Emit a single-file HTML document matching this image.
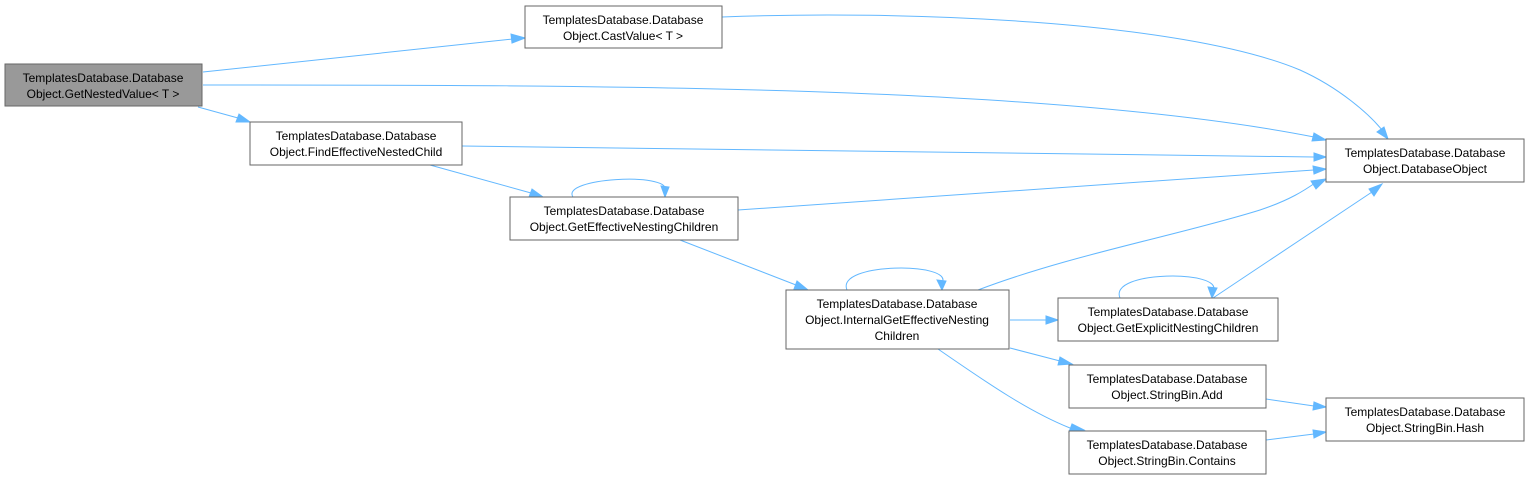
<!DOCTYPE html>
<html><head><meta charset="utf-8"><style>
body{margin:0;background:#fff}
svg text{font-family:"Liberation Sans",Arial,sans-serif;font-size:12px;fill:#000;text-anchor:middle}
.b{fill:#fff;stroke:#666;stroke-width:1}
.e{fill:none;stroke:#63b8ff;stroke-width:1}
.a{fill:#63b8ff;stroke:#63b8ff}
</style></head><body>
<svg width="1529" height="480" viewBox="0 0 1529 480" xmlns="http://www.w3.org/2000/svg">
<!-- edges -->
<path class="e" d="M203,72 L513,39"/><polygon class="a" points="525,38 512,43 511,34"/>
<path class="e" d="M203,85 C600,85 1050,85 1314,137"/><polygon class="a" points="1326,140 1312,141 1314,133"/>
<path class="e" d="M198,107 L238,118"/><polygon class="a" points="250,122 236,122 239,114"/>
<path class="e" d="M722,17 C900,10 1180,20 1300,70 C1340,88 1370,115 1382,130"/><polygon class="a" points="1388,139 1377,132 1384,127"/>
<path class="e" d="M462,146 L1314,157"/><polygon class="a" points="1326,157 1314,161 1314,153"/>
<path class="e" d="M430,165 L531,193"/><polygon class="a" points="543,197 529,197 532,189"/>
<path class="e" d="M573,197 C560,178 670,172 665,190"/><polygon class="a" points="665,197 661,186 669,187"/>
<path class="e" d="M738,210 L1314,170"/><polygon class="a" points="1326,169 1314,174 1313,166"/>
<path class="e" d="M680,240 L796,285"/><polygon class="a" points="808,290 794,289 797,281"/>
<path class="e" d="M847,290 C835,262 955,262 942,283"/><polygon class="a" points="942,290 937,280 946,281"/>
<path class="e" d="M978,290 C1070,255 1180,235 1260,210 C1290,200 1305,190 1315,183"/><polygon class="a" points="1326,179 1316,189 1311,181"/>
<path class="e" d="M1010,320 L1046,320"/><polygon class="a" points="1058,320 1046,324 1046,316"/>
<path class="e" d="M1120,298 C1108,270 1225,270 1213,291"/><polygon class="a" points="1212,298 1208,287 1217,288"/>
<path class="e" d="M1213,298 L1372,192"/><polygon class="a" points="1382,184 1374,196 1369,189"/>
<path class="e" d="M1010,348 L1060,361"/><polygon class="a" points="1072,364 1058,365 1060,357"/>
<path class="e" d="M938,349 C990,385 1030,412 1070,428"/><polygon class="a" points="1084,430 1069,432 1072,424"/>
<path class="e" d="M1266,399 L1314,406"/><polygon class="a" points="1326,407 1313,410 1314,402"/>
<path class="e" d="M1266,440 L1314,434"/><polygon class="a" points="1326,432 1314,438 1313,430"/>
<!-- nodes -->
<rect x="5" y="64" width="197" height="42" fill="#999" stroke="#666"/>
<text x="103" y="82">TemplatesDatabase.Database</text><text x="103" y="98">Object.GetNestedValue&lt; T &gt;</text>
<rect class="b" x="525" y="6" width="197" height="42"/>
<text x="623" y="24">TemplatesDatabase.Database</text><text x="623" y="40">Object.CastValue&lt; T &gt;</text>
<rect class="b" x="250" y="122" width="212" height="43"/>
<text x="356" y="140">TemplatesDatabase.Database</text><text x="356" y="156">Object.FindEffectiveNestedChild</text>
<rect class="b" x="1326" y="139" width="198" height="43"/>
<text x="1425" y="157">TemplatesDatabase.Database</text><text x="1425" y="173">Object.DatabaseObject</text>
<rect class="b" x="510" y="197" width="228" height="43"/>
<text x="624" y="215">TemplatesDatabase.Database</text><text x="624" y="231">Object.GetEffectiveNestingChildren</text>
<rect class="b" x="786" y="290" width="223" height="59"/>
<text x="897" y="308">TemplatesDatabase.Database</text><text x="897" y="324">Object.InternalGetEffectiveNesting</text><text x="897" y="340">Children</text>
<rect class="b" x="1058" y="298" width="220" height="43"/>
<text x="1168" y="316">TemplatesDatabase.Database</text><text x="1168" y="332">Object.GetExplicitNestingChildren</text>
<rect class="b" x="1069" y="365" width="197" height="43"/>
<text x="1167" y="383">TemplatesDatabase.Database</text><text x="1167" y="399">Object.StringBin.Add</text>
<rect class="b" x="1069" y="431" width="197" height="43"/>
<text x="1167" y="449">TemplatesDatabase.Database</text><text x="1167" y="465">Object.StringBin.Contains</text>
<rect class="b" x="1326" y="398" width="198" height="43"/>
<text x="1425" y="416">TemplatesDatabase.Database</text><text x="1425" y="432">Object.StringBin.Hash</text>
</svg>
</body></html>
